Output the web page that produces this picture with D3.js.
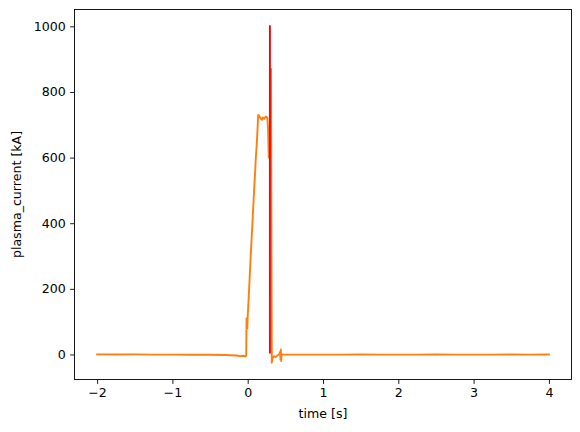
<!DOCTYPE html>
<html><head><meta charset="utf-8">
<script src="https://cdn.jsdelivr.net/npm/d3@7"></script>
<style>body{margin:0;background:#fff}svg{display:block}text{font-family:"DejaVu Sans",sans-serif}</style>
</head><body>
<script>
// ---- data ----
const orangeTime = [-2.0,-1.75,-1.5,-1.25,-1.0,-0.75,-0.5,-0.3,-0.15,-0.1,-0.05,-0.03,-0.02,-0.015,-0.005,0.0,0.02,0.04,0.065,0.085,0.1,0.105,0.12,0.14,0.15,0.17,0.19,0.2,0.22,0.24,0.26,0.27,0.28,0.305,0.31,0.315,0.32,0.33,0.35,0.37,0.4,0.42,0.43,0.435,0.44,0.445,0.45,0.47,0.5,0.75,1.0,1.25,1.5,1.75,2.0,2.25,2.5,2.75,3.0,3.25,3.5,3.75,4.0];
const orangeValue = [0.3,0,0.3,-0.3,-0.5,-0.8,-1,-1.5,-3,-5,-4,-6,-3,110,80,115,205,300,410,500,560,589,640,730,728,720,715,722,718,725,722,690,600,600,870,300,-25,-10,-5,-8,-2,0,8,-15,15,-20,1,0,-0.5,-0.3,-0.5,-0.3,0,-0.5,-0.3,-0.5,0,-0.5,-0.3,-0.5,0,-0.3,0];
const redTime = [0.295,0.295];
const redValue = [1000,6];
const xTicks = [-2,-1,0,1,2,3,4];
const xTickLabels = ["\u22122","\u22121","0","1","2","3","4"];
const yTicks = [0,200,400,600,800,1000];
const yTickLabels = ["0","200","400","600","800","1000"];
const xDomain = [-2.3,4.3];
const yDomain = [-76.25,1051.25];

// ---- chart ----
const W=580,H=432, L=74.5,R=571.5,T=9.5,B=379.5;
const svg=d3.select("body").append("svg").attr("width",W).attr("height",H);
const x=d3.scaleLinear().domain(xDomain).range([L,R]);
const y=d3.scaleLinear().domain(yDomain).range([B,T]);
svg.append("clipPath").attr("id","clip").append("rect").attr("x",L).attr("y",T).attr("width",R-L).attr("height",B-T);

const line=d3.line().x(d=>x(d[0])).y(d=>y(d[1]));
const g=svg.append("g").attr("clip-path","url(#clip)");
g.append("path").datum(orangeTime.map((t,i)=>[t,orangeValue[i]]))
 .attr("d",line).attr("fill","none").attr("stroke","#ff7f0e").attr("stroke-width",1.9).attr("stroke-linejoin","round").attr("stroke-linecap","square");
g.append("path").datum(redTime.map((t,i)=>[t,redValue[i]]))
 .attr("d",line).attr("fill","none").attr("stroke","#ff0000").attr("stroke-width",1.9).attr("stroke-linecap","square");

const fs=12.6;
const xa=svg.append("g").attr("transform",`translate(0,${B})`)
 .call(d3.axisBottom(x).tickValues(xTicks).tickFormat((d,i)=>xTickLabels[i]).tickSize(4.4).tickPadding(4.4).tickSizeOuter(0));
const ya=svg.append("g").attr("transform",`translate(${L},0)`)
 .call(d3.axisLeft(y).tickValues(yTicks).tickFormat((d,i)=>yTickLabels[i]).tickSize(4.4).tickPadding(4.4).tickSizeOuter(0));
[xa,ya].forEach(a=>{a.select(".domain").remove();a.selectAll("line").attr("stroke","#000").attr("stroke-width",0.9);a.selectAll("text").attr("font-size",fs).attr("fill","#000").attr("font-family","DejaVu Sans");});

svg.append("rect").attr("x",L).attr("y",T).attr("width",R-L).attr("height",B-T).attr("fill","none").attr("stroke","#000").attr("stroke-width",0.9);

svg.append("text").attr("x",(L+R)/2).attr("y",418).attr("text-anchor","middle").attr("font-size",fs).text("time [s]");
svg.append("text").attr("transform",`translate(21,${(T+B)/2}) rotate(-90)`).attr("text-anchor","middle").attr("font-size",fs).text("plasma_current [kA]");
</script>
</body></html>
